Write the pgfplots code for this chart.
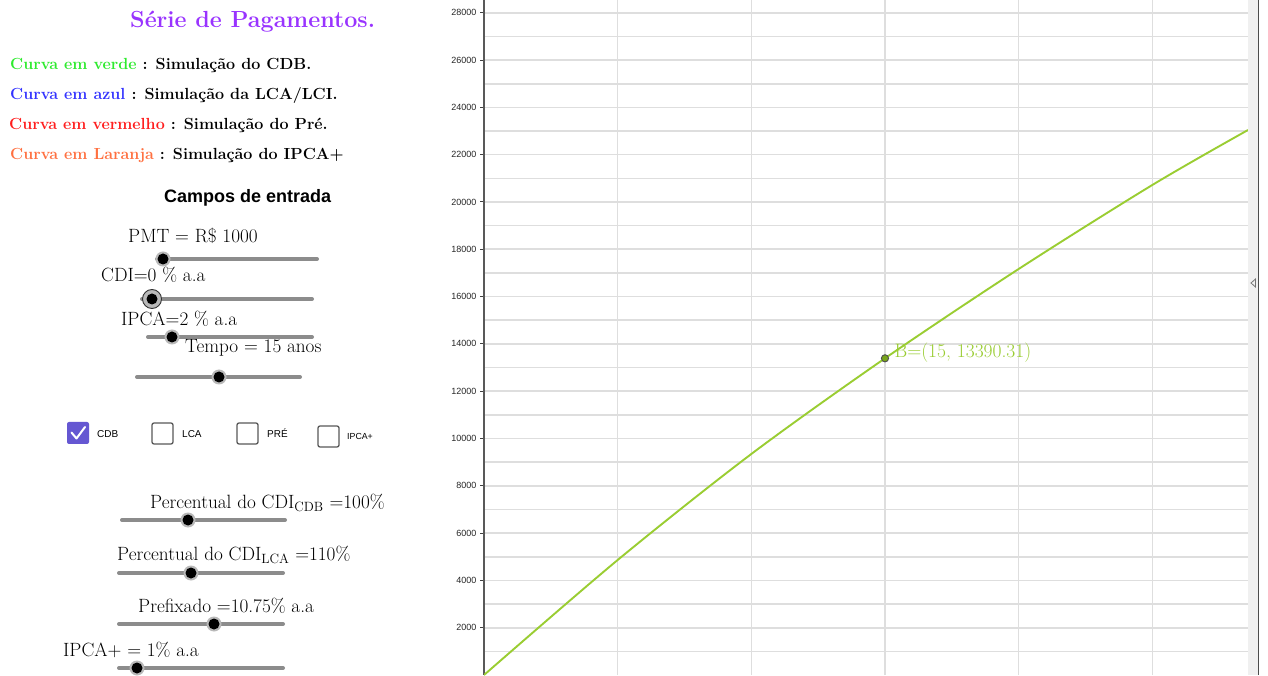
\documentclass[border=0pt]{standalone}
\usepackage{pgfplots}
\pgfplotsset{compat=1.18}
\usepackage{fontspec}
\newfontfamily\arial{Liberation Sans}
\definecolor{ttl}{RGB}{153,51,255}
\definecolor{cgreen}{RGB}{45,235,45}
\definecolor{cblue}{RGB}{51,51,255}
\definecolor{cred}{RGB}{255,30,30}
\definecolor{corange}{RGB}{255,112,64}
\definecolor{curve}{RGB}{154,205,50}
\definecolor{ptfill}{RGB}{120,165,25}
\definecolor{sliderc}{RGB}{140,140,140}
\definecolor{chk}{RGB}{101,87,210}
\newcommand\slider[4]{%
  \draw[line width=4pt, sliderc, line cap=round] (#1,{675-#3}) -- (#2,{675-#3});
  \fill[gray!55] (#4,{675-#3}) circle (7.5pt);
  \fill[black] (#4,{675-#3}) circle (5.5pt);}
\newcommand\txt[4]{\node[anchor=base west, inner sep=0pt, font=#3] at (#1,{675-#2}) {#4};}
\newcommand\cbox[2]{\draw[black!65, line width=1.3pt, rounded corners=2pt] (#1,{675-#2}) rectangle ({#1+21},{675-#2-21});}
\newcommand\sz{\fontsize{19.2}{22}\selectfont}
\newcommand\cz{\fontsize{16.1}{19}\selectfont\bfseries}
\begin{document}
\begin{tikzpicture}[x=1pt,y=1pt]
\path[use as bounding box, fill=white] (0,0) rectangle (1268,675);
% ---------- graph ----------
\begin{axis}[at={(484pt,0pt)}, anchor=south west, scale only axis,
  width=764pt, height=675pt,
  xmin=0, xmax=28.58, ymin=0, ymax=28541,
  axis x line=bottom, axis y line=left,
  axis line style={-},
  x axis line style={draw=none},
  y axis line style={draw=black!65, line width=1.6pt},
  xtick={5,10,15,20,25}, xticklabels={}, xtick style={draw=none},
  ytick={2000,4000,...,28000}, minor ytick={1000,3000,...,27000},
  xmajorgrids, ymajorgrids, yminorgrids,
  major grid style={draw=black!13, line width=1.6pt},
  minor grid style={draw=black!13, line width=1.6pt},
  tick align=outside, major tick length=4pt, minor tick length=0pt,
  ytick style={draw=black!75, line width=1pt},
  yticklabel style={font=\arial\fontsize{9}{10}\selectfont, text=black!85},
  /pgf/number format/assume math mode=true,
  /pgf/number format/set thousands separator={},
  scaled y ticks=false,
  clip=true,
]
\addplot[curve, line width=1.9pt, smooth] coordinates {
 (0,0) (5,4863) (10,9345) (15,13390.31) (20,17167) (25,20719) (28.58,23044)
};
\addplot[only marks, mark=*, mark size=3.6pt, mark options={fill=ptfill, draw=black!70, line width=0.9pt}]
 coordinates {(15,13390.31)}
 node[pos=0, anchor=west, xshift=6pt, yshift=6pt, text=curve, font=\fontsize{19.5}{22}\selectfont] {B=(15, 13390.31)};
\end{axis}
% ---------- scrollbar ----------
\fill[black!6] (1248,0) rectangle (1258,675);
\draw[black!70, line width=1.5pt] (1258.5,0) -- (1258.5,675);
\draw[black!55, line width=0.8pt] (1255.5,396) -- (1251,392) -- (1255.5,388) -- cycle;
% ---------- left panel ----------
\txt{130}{28}{\fontsize{23.3}{26}\selectfont\bfseries}{\textcolor{ttl}{Série de Pagamentos.}}
\txt{10}{70}{\cz}{\textcolor{cgreen}{Curva em verde} : Simulação do CDB.}
\txt{10}{100}{\cz}{\textcolor{cblue}{Curva em azul} : Simulação da LCA/LCI.}
\txt{9}{130}{\cz}{\textcolor{cred}{Curva em vermelho} : Simulação do Pré.}
\txt{10}{160}{\cz}{\textcolor{corange}{Curva em Laranja} : Simulação do IPCA+}
\txt{164}{203}{\arial\fontsize{18}{21}\selectfont\bfseries}{Campos de entrada}
\txt{128}{243}{\sz}{PMT = R\$ 1000}
\slider{157}{317}{259}{163}
\txt{101}{282}{\sz}{CDI=0 \% a.a}
\draw[sliderc, line width=4pt, line cap=round] (142,376) -- (312,376);
\fill[gray!55] (152,376) circle (9.5pt);
\draw[black!80, line width=0.9pt] (152,376) circle (9.5pt);
\fill[black] (152,376) circle (5.5pt);
\txt{121}{326}{\sz}{IPCA=2 \% a.a}
\slider{148}{312}{337}{172}
\txt{185}{353}{\sz}{Tempo = 15 anos}
\slider{137}{300}{377}{219}
% checkboxes
\fill[chk, rounded corners=2pt] (67,253) rectangle (89,231);
\draw[white, line width=2pt, line cap=round, line join=round] (71.5,242.5) -- (76.5,236.5) -- (85,248);
\cbox{152}{423}
\cbox{237}{423}
\cbox{318}{426}
\txt{97}{438}{\arial\fontsize{10}{11}\selectfont}{CDB}
\txt{182}{438}{\arial\fontsize{10}{11}\selectfont}{LCA}
\txt{267}{438}{\arial\fontsize{10}{11}\selectfont}{PRÉ}
\txt{347}{440}{\arial\fontsize{8.8}{10}\selectfont}{IPCA+}
% lower sliders
\txt{150}{508}{\sz}{Percentual do CDI$_{\mathrm{CDB}}$ =100\%}
\slider{122}{285}{520}{188}
\txt{117}{560}{\sz}{Percentual do CDI$_{\mathrm{LCA}}$ =110\%}
\slider{119}{283}{573}{191}
\txt{138}{612}{\sz}{Prefixado =10.75\% a.a}
\slider{119}{283}{624}{214}
\txt{63}{656}{\sz}{IPCA+ = 1\% a.a}
\slider{119}{283}{668}{137}
\end{tikzpicture}
\end{document}
